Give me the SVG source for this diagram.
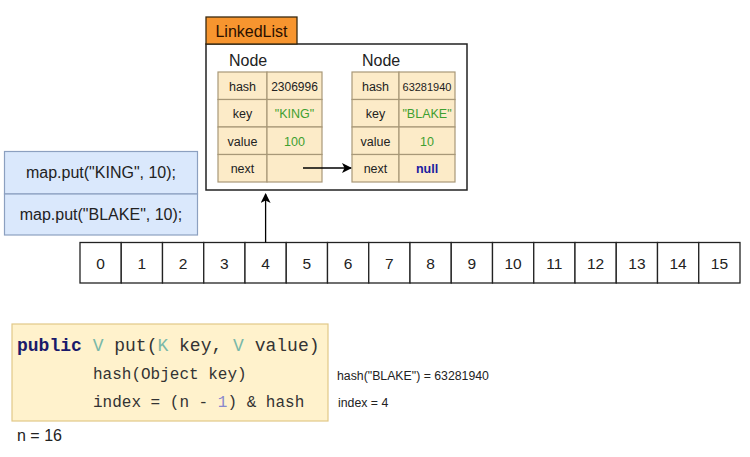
<svg xmlns="http://www.w3.org/2000/svg" width="750" height="457" viewBox="0 0 750 457">
<defs>
<marker id="ah" viewBox="0 0 10 10" refX="9" refY="5" markerWidth="10" markerHeight="10" markerUnits="userSpaceOnUse" orient="auto">
<path d="M0,0 L10,5 L0,10 L2.5,5 z" fill="#000"/>
</marker>
<style>
.s{font-family:"Liberation Sans",Arial,sans-serif;fill:#222}
.m{font-family:"Liberation Mono","Courier New",monospace;fill:#333}
.cell{fill:#fcebc8;stroke:#a89878;stroke-width:1.2}
.arr{fill:#fff;stroke:#222;stroke-width:1.3}
.c{text-anchor:middle}
.g{fill:#3ea030}
.t{fill:#7ab8a8}
</style>
</defs>
<rect width="750" height="457" fill="#fff"/>

<g id="linkedlist">
<rect x="206" y="44" width="261" height="146" fill="#fff" stroke="#222" stroke-width="1.5"/>
<rect x="206" y="17" width="91" height="27" fill="#f7952f" stroke="#3a2a10" stroke-width="1.3"/>
<text x="251.5" y="37" class="s c" font-size="16" style="fill:#2a1000">LinkedList</text>
</g>

<g id="node1">
<text x="229" y="66" class="s" font-size="16">Node</text>
<rect x="218" y="72" width="49" height="27.5" class="cell"/>
<rect x="267" y="72" width="55" height="27.5" class="cell"/>
<rect x="218" y="99.5" width="49" height="27.5" class="cell"/>
<rect x="267" y="99.5" width="55" height="27.5" class="cell"/>
<rect x="218" y="127" width="49" height="27.5" class="cell"/>
<rect x="267" y="127" width="55" height="27.5" class="cell"/>
<rect x="218" y="154.5" width="49" height="27.5" class="cell"/>
<rect x="267" y="154.5" width="55" height="27.5" class="cell"/>
<text x="242.5" y="90.5" class="s c" font-size="12.5">hash</text>
<text x="294.5" y="90.5" class="s c" font-size="12">2306996</text>
<text x="242.5" y="118" class="s c" font-size="12.5">key</text>
<text x="294.5" y="118" class="s c g" font-size="12.5">"KING"</text>
<text x="242.5" y="145.5" class="s c" font-size="12.5">value</text>
<text x="294.5" y="145.5" class="s c g" font-size="12.5">100</text>
<text x="242.5" y="173" class="s c" font-size="12.5">next</text>
</g>

<g id="node2">
<text x="362" y="66" class="s" font-size="16">Node</text>
<rect x="352" y="72" width="47" height="27.5" class="cell"/>
<rect x="399" y="72" width="56" height="27.5" class="cell"/>
<rect x="352" y="99.5" width="47" height="27.5" class="cell"/>
<rect x="399" y="99.5" width="56" height="27.5" class="cell"/>
<rect x="352" y="127" width="47" height="27.5" class="cell"/>
<rect x="399" y="127" width="56" height="27.5" class="cell"/>
<rect x="352" y="154.5" width="47" height="27.5" class="cell"/>
<rect x="399" y="154.5" width="56" height="27.5" class="cell"/>
<text x="375.5" y="90.5" class="s c" font-size="12.5">hash</text>
<text x="427" y="90.5" class="s c" font-size="11">63281940</text>
<text x="375.5" y="118" class="s c" font-size="12.5">key</text>
<text x="427" y="118" class="s c g" font-size="12.5">"BLAKE"</text>
<text x="375.5" y="145.5" class="s c" font-size="12.5">value</text>
<text x="427" y="145.5" class="s c g" font-size="12.5">10</text>
<text x="375.5" y="173" class="s c" font-size="12.5">next</text>
<text x="427" y="173" class="s c" font-size="12.5" font-weight="bold" style="fill:#1a1aa0">null</text>
</g>

<g id="calls">
<rect x="4.5" y="151.5" width="193" height="42.5" fill="#dae8fc" stroke="#8ca0c0" stroke-width="1.2"/>
<rect x="4.5" y="194" width="193" height="41" fill="#dae8fc" stroke="#8ca0c0" stroke-width="1.2"/>
<text x="101" y="178" class="s c" font-size="16">map.put("KING", 10);</text>
<text x="101" y="220" class="s c" font-size="16">map.put("BLAKE", 10);</text>
</g>

<g id="table">
<rect x="80" y="242.5" width="41.25" height="40.5" class="arr"/>
<rect x="121.25" y="242.5" width="41.25" height="40.5" class="arr"/>
<rect x="162.5" y="242.5" width="41.25" height="40.5" class="arr"/>
<rect x="203.75" y="242.5" width="41.25" height="40.5" class="arr"/>
<rect x="245" y="242.5" width="41.25" height="40.5" class="arr"/>
<rect x="286.25" y="242.5" width="41.25" height="40.5" class="arr"/>
<rect x="327.5" y="242.5" width="41.25" height="40.5" class="arr"/>
<rect x="368.75" y="242.5" width="41.25" height="40.5" class="arr"/>
<rect x="410" y="242.5" width="41.25" height="40.5" class="arr"/>
<rect x="451.25" y="242.5" width="41.25" height="40.5" class="arr"/>
<rect x="492.5" y="242.5" width="41.25" height="40.5" class="arr"/>
<rect x="533.75" y="242.5" width="41.25" height="40.5" class="arr"/>
<rect x="575" y="242.5" width="41.25" height="40.5" class="arr"/>
<rect x="616.25" y="242.5" width="41.25" height="40.5" class="arr"/>
<rect x="657.5" y="242.5" width="41.25" height="40.5" class="arr"/>
<rect x="698.75" y="242.5" width="41.25" height="40.5" class="arr"/>
<g class="s c" font-size="15.5">
<text x="100.6" y="268.5">0</text>
<text x="141.9" y="268.5">1</text>
<text x="183.1" y="268.5">2</text>
<text x="224.4" y="268.5">3</text>
<text x="265.6" y="268.5">4</text>
<text x="306.9" y="268.5">5</text>
<text x="348.1" y="268.5">6</text>
<text x="389.4" y="268.5">7</text>
<text x="430.6" y="268.5">8</text>
<text x="471.9" y="268.5">9</text>
<text x="513.1" y="268.5">10</text>
<text x="554.4" y="268.5">11</text>
<text x="595.6" y="268.5">12</text>
<text x="636.9" y="268.5">13</text>
<text x="678.1" y="268.5">14</text>
<text x="719.4" y="268.5">15</text>
</g>
</g>

<g id="connectors" fill="none" stroke="#000" stroke-width="1.3">
<line x1="303" y1="168" x2="351" y2="168" marker-end="url(#ah)"/>
<line x1="265.6" y1="242.5" x2="265.6" y2="194" marker-end="url(#ah)"/>
</g>

<g id="code">
<rect x="12" y="324" width="316" height="97" fill="#fff2cc" stroke="#e2c888" stroke-width="1.2"/>
<text x="17" y="351" class="m" font-size="18" xml:space="preserve"><tspan font-weight="bold" style="fill:#1a1a6a">public</tspan> <tspan class="t">V</tspan> put(<tspan class="t">K</tspan> key, <tspan class="t">V</tspan> value)</text>
<text x="93" y="379" class="m" font-size="16" xml:space="preserve">hash(Object key)</text>
<text x="93" y="407" class="m" font-size="16" xml:space="preserve">index = (n - <tspan style="fill:#8888cc">1</tspan>) &amp; hash</text>
</g>

<g id="notes">
<text x="337" y="380" class="s" font-size="12.3">hash("BLAKE") = 63281940</text>
<text x="338" y="407" class="s" font-size="12.3">index = 4</text>
<text x="17" y="441" class="s" font-size="16">n = 16</text>
</g>
</svg>
